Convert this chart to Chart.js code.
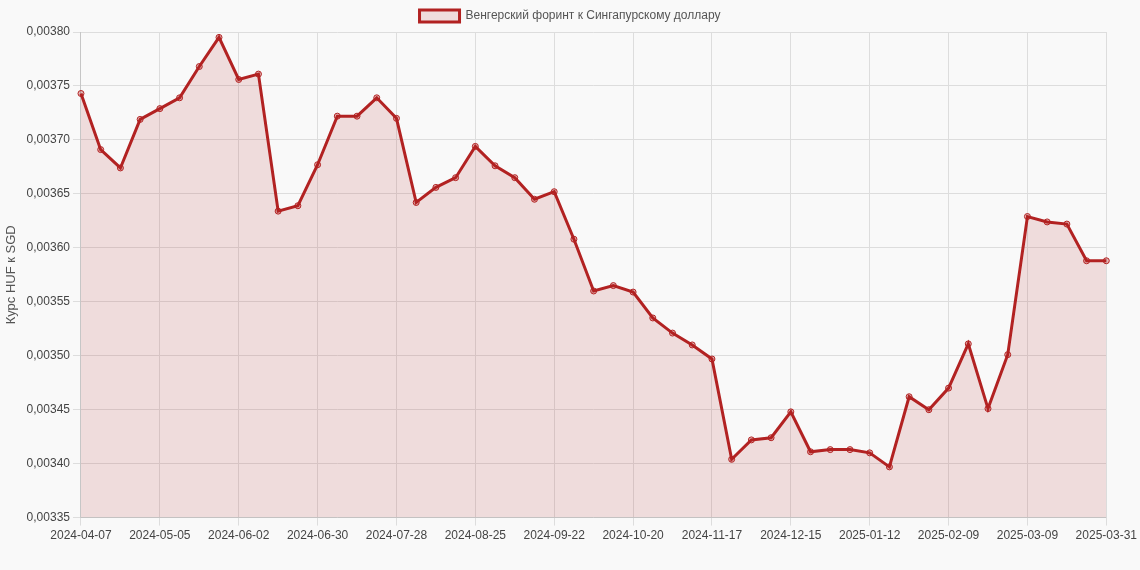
<!DOCTYPE html>
<html><head><meta charset="utf-8">
<script src="https://cdn.jsdelivr.net/npm/chart.js@4"></script>
<style>html,body{margin:0;background:#f9f9f9;}#w{width:1140px;height:570px;}</style>
</head><body><div id="w"><canvas id="c"></canvas></div>
<script>
const labels=[];
(function(){let d=new Date(Date.UTC(2024,3,7));for(let i=0;i<52;i++){labels.push(d.toISOString().slice(0,10));d=new Date(d.getTime()+7*864e5);}labels.push('2025-03-31');})();
const values=[0.003743,0.003691,0.003674,0.003719,0.003729,0.003739,0.003768,0.003795,0.003756,0.003761,
0.003634,0.003639,0.003677,0.003722,0.003722,0.003739,0.003720,0.003642,0.003656,0.003665,
0.003694,0.003676,0.003665,0.003645,0.003652,0.003608,0.003560,0.003565,0.003559,0.003535,
0.003521,0.003510,0.003497,0.003404,0.003422,0.003424,0.003448,0.003411,0.003413,0.003413,
0.003410,0.003397,0.003462,0.003450,0.003470,0.003511,0.003451,0.003501,0.003629,0.003624,
0.003622,0.003588,0.003588];
const seriesName='Венгерский форинт к Сингапурскому доллару';
Chart.defaults.font.family='"Liberation Sans", Arial, sans-serif';
new Chart(document.getElementById('c'),{type:'line',
data:{labels,datasets:[{label:seriesName,data:values,borderColor:'#b22222',backgroundColor:'rgba(178,34,34,0.13)',fill:true,borderWidth:3,tension:0,pointRadius:3,pointBackgroundColor:'rgba(178,34,34,0.3)',pointBorderColor:'#b22222',pointBorderWidth:1}]},
options:{responsive:true,maintainAspectRatio:false,animation:false,layout:{padding:{bottom:24}},
plugins:{legend:{labels:{color:'#555',font:{size:12},boxWidth:40,boxHeight:12}}},
scales:{x:{grid:{color:c=>(c.index%4===0)?'#ddd':'rgba(0,0,0,0)'},ticks:{color:'#444',maxRotation:0,autoSkip:false,font:{size:12},callback:(v,i)=>(i%4===0)?labels[i]:''}},
y:{min:0.00335,max:0.0038,grid:{color:'#ddd'},title:{display:true,text:'Курс HUF к SGD',color:'#555',font:{size:13}},
ticks:{stepSize:0.00005,color:'#444',font:{size:12},callback:v=>v.toFixed(5).replace('.',',')}}}}});
</script></body></html>
